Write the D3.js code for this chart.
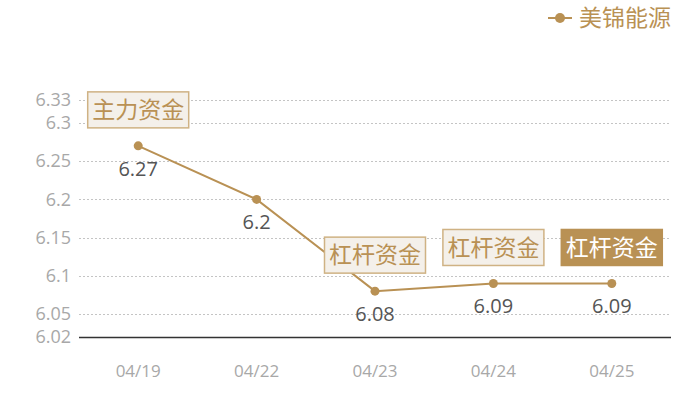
<!DOCTYPE html>
<html>
<head>
<meta charset="utf-8">
<script src="https://cdn.jsdelivr.net/npm/d3@7"></script>
<style>
  body { margin: 0; background: #fff; }
  svg { display: block; font-family: "Open Sans", "Noto Sans CJK SC", sans-serif; }
</style>
</head>
<body>
<div id="chart"></div>
<script>
// chart data
var dates = ["04/19", "04/22", "04/23", "04/24", "04/25"];
var prices = [6.27, 6.2, 6.08, 6.09, 6.09];
var yTicks = [6.02, 6.05, 6.1, 6.15, 6.2, 6.25, 6.3, 6.33];
var seriesName = "美锦能源";
// annotation per date ("" = none), and whether it is highlighted
var marks = ["主力资金", "", "杠杆资金", "杠杆资金", "杠杆资金"];
var markActive = [false, false, false, false, true];

var W = 700, H = 400;
var margin = {top: 100, right: 29, bottom: 63, left: 79};
var width = W - margin.left - margin.right,
    height = H - margin.top - margin.bottom;
var gold = "#b99154";

var svg = d3.select("#chart").append("svg")
  .attr("width", W).attr("height", H);

var g = svg.append("g")
  .attr("transform", "translate(" + margin.left + "," + margin.top + ")");

var x = d3.scaleBand().domain(dates).range([0, width]);
var y = d3.scaleLinear().domain([6.02, 6.33]).range([height, 0]);

// grid lines
g.selectAll(".grid")
  .data(yTicks.filter(function(d){ return d !== 6.02; }))
  .enter().append("line")
    .attr("x1", 0).attr("x2", width)
    .attr("y1", function(d){ return Math.round(y(d)) + 0.5; })
    .attr("y2", function(d){ return Math.round(y(d)) + 0.5; })
    .attr("stroke", "#c4c4c4")
    .attr("stroke-dasharray", "2,2");

// y labels
g.selectAll(".ylab")
  .data(yTicks)
  .enter().append("text")
    .attr("x", -8)
    .attr("y", function(d){ return y(d); })
    .attr("dy", "0.35em")
    .attr("text-anchor", "end")
    .attr("fill", "#a8a8a8")
    .style("font-size", "18px")
    .text(function(d){ return d; });

// x axis
g.append("line")
  .attr("x1", 0).attr("x2", width)
  .attr("y1", Math.round(height) + 0.5).attr("y2", Math.round(height) + 0.5)
  .attr("stroke", "#333").attr("stroke-width", 1.5);

g.selectAll(".xlab")
  .data(dates)
  .enter().append("text")
    .attr("x", function(d){ return x(d) + x.bandwidth()/2; })
    .attr("y", height + 40)
    .attr("text-anchor", "middle")
    .attr("fill", "#a8a8a8")
    .style("font-size", "17px")
    .text(function(d){ return d; });

var pts = dates.map(function(d, i){
  return {date: d, v: prices[i], mark: marks[i], active: markActive[i]};
});
var cx = function(d){ return x(d.date) + x.bandwidth()/2; };

// line
var line = d3.line().x(cx).y(function(d){ return y(d.v); });
g.append("path")
  .datum(pts)
  .attr("d", line)
  .attr("fill", "none")
  .attr("stroke", gold)
  .attr("stroke-width", 2);

g.selectAll(".dot")
  .data(pts)
  .enter().append("circle")
    .attr("cx", cx)
    .attr("cy", function(d){ return y(d.v); })
    .attr("r", 4.5)
    .attr("fill", gold);

// value labels
g.selectAll(".vlab")
  .data(pts)
  .enter().append("text")
    .attr("x", cx)
    .attr("y", function(d){ return y(d.v) + 30; })
    .attr("text-anchor", "middle")
    .attr("fill", "#555")
    .style("font-size", "20px")
    .text(function(d){ return d.v; });

// annotation boxes
var boxW = 101, boxH = 36;
var ann = g.selectAll(".ann")
  .data(pts.filter(function(d){ return d.mark; }))
  .enter().append("g")
    .attr("transform", function(d){
      return "translate(" + (cx(d) - boxW/2) + "," + (y(d.v) - 18 - boxH) + ")";
    });

ann.append("rect")
  .attr("width", boxW).attr("height", boxH)
  .attr("fill", function(d){ return d.active ? gold : "#f4f0ea"; })
  .attr("stroke", function(d){ return d.active ? gold : "#cfb284"; })
  .attr("stroke-width", 1.5);

ann.append("text")
  .attr("x", boxW/2).attr("y", boxH/2)
  .attr("dy", "0.36em")
  .attr("text-anchor", "middle")
  .attr("fill", function(d){ return d.active ? "#fff" : gold; })
  .style("font-family", "'Noto Sans CJK SC', sans-serif")
  .style("font-size", "23px")
  .text(function(d){ return d.mark; });

// legend
var leg = svg.append("g").attr("transform", "translate(548,18)");
leg.append("line").attr("x1", 0).attr("x2", 24)
  .attr("stroke", gold).attr("stroke-width", 2);
leg.append("circle").attr("cx", 12).attr("r", 5).attr("fill", gold);
leg.append("text")
  .attr("x", 31).attr("dy", "0.35em")
  .attr("fill", gold)
  .style("font-family", "'Noto Sans CJK SC', sans-serif")
  .style("font-size", "23px")
  .text(seriesName);
</script>
</body>
</html>
